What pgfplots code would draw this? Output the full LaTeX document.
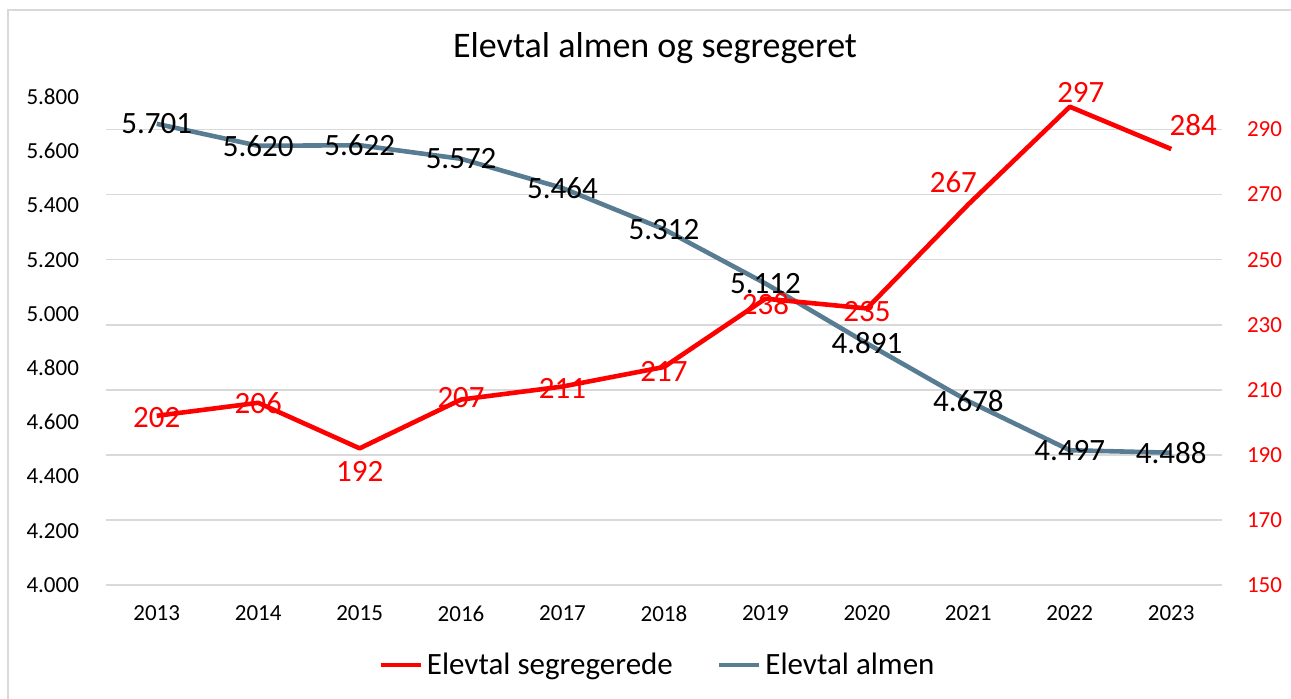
\documentclass[border=0pt]{standalone}
\usepackage{fontspec}
\setmainfont{Carlito}
\usepackage{pgfplots}
\pgfplotsset{compat=1.18}
\usepackage{pgfplotstable}
\definecolor{bluegray}{RGB}{88,124,146}
\definecolor{gridgray}{RGB}{217,217,217}

\pgfplotstableread{
year val
2013 5701
2014 5620
2015 5622
2016 5572
2017 5464
2018 5312
2019 5112
2020 4891
2021 4678
2022 4497
2023 4488
}\almen

\pgfplotstableread{
year val dx dy
2013 202 0 -2
2014 206 0 0
2015 192 0 -23
2016 207 0 2
2017 211 0 -2
2018 217 0 -4
2019 238 0 -5
2020 235 0 -3
2021 267 -15 22
2022 297 11 14
2023 284 22 24
}\segr

\pgfplotsset{
  base/.style={
    at={(53pt,57pt)}, anchor=south west,
    width=558pt, height=244pt, scale only axis,
    xmin=2012.5, xmax=2023.5,
    axis line style={draw=none}, tick style={draw=none},
    clip=false,
    /pgf/number format/assume math mode=true,
  },
  primary/.style={base, ymin=4000, ymax=5800},
  secondary/.style={base, ymin=150, ymax=300},
}

\begin{document}
\begin{tikzpicture}
\path[use as bounding box] (0,0) rectangle (645.5pt,349.5pt);
\draw[gridgray, line width=1pt] (3.75pt,-2pt) -- (3.75pt,344.5pt) -- (650pt,344.5pt);

% grid + right axis labels
\begin{axis}[secondary,
  ytick={150,170,...,290}, xtick=\empty,
  ymajorgrids, grid style={gridgray, line width=0.8pt},
  axis y line*=right,
  yticklabel style={red, font=\fontsize{11.5}{13}\selectfont, xshift=9pt},
]
\addplot[draw=none] coordinates {(2013,150)};
\end{axis}

% primary: blue line, left labels, x labels
\begin{axis}[primary,
  ytick={4000,4200,...,5800},
  xtick={2013,...,2023},
  axis y line*=left,
  yticklabel style={font=\fontsize{11.5}{13}\selectfont, /pgf/number format/1000 sep={.}, xshift=-10pt},
  xticklabel style={font=\fontsize{11.5}{13}\selectfont, /pgf/number format/1000 sep={}, yshift=-7pt},
]
\addplot[bluegray, line width=2.3pt, line join=round] table[x=year, y=val] {\almen};
\end{axis}

% secondary: red line
\begin{axis}[secondary, xtick=\empty, ytick=\empty]
\addplot[red, line width=2.3pt, line join=round] table[x=year, y=val] {\segr};
\end{axis}

% primary: blue labels
\begin{axis}[primary, xtick=\empty, ytick=\empty]
\addplot[draw=none, nodes near coords, point meta=y,
  nodes near coords align={center},
  every node near coord/.append style={black, anchor=center, inner sep=0pt,
    font=\fontsize{15.5}{18}\selectfont, /pgf/number format/1000 sep={.}}]
  table[x=year, y=val] {\almen};
\end{axis}

% secondary: red labels + legend
\begin{axis}[secondary, xtick=\empty, ytick=\empty,
  legend style={at={(0.495,-0.164)}, anchor=center, draw=none, fill=none,
    font=\fontsize{15.5}{18}\selectfont,
    /tikz/every even column/.append style={column sep=20pt}},
  legend columns=2,
  legend image code/.code={\draw[#1] (0pt,0pt) -- (20pt,0pt);},
]
\addplot[draw=none, forget plot, nodes near coords, point meta=y,
  visualization depends on={\thisrow{dx} \as \dx},
  visualization depends on={\thisrow{dy} \as \dy},
  nodes near coords align={center},
  every node near coord/.append style={red, anchor=center, inner sep=0pt,
    font=\fontsize{15.5}{18}\selectfont,
    xshift={\dx*0.5pt}, yshift={\dy*0.5pt}}]
  table[x=year, y=val] {\segr};
\addlegendimage{red, line width=2.3pt}
\addlegendentry{Elevtal segregerede}
\addlegendimage{bluegray, line width=2.3pt}
\addlegendentry{Elevtal almen}
\end{axis}

\node[font=\fontsize{18}{22}\selectfont] at (327.5pt,325.5pt) {Elevtal almen og segregeret};
\end{tikzpicture}
\end{document}
